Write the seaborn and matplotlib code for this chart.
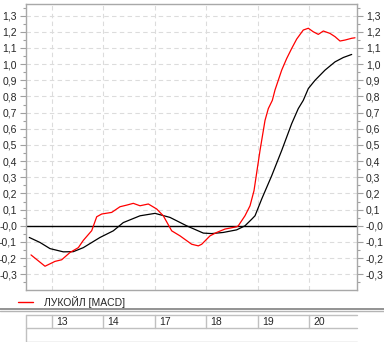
import matplotlib
matplotlib.use("Agg")
import matplotlib.pyplot as plt
import matplotlib.ticker as mticker
from matplotlib.lines import Line2D
import matplotlib.transforms as mtransforms
import seaborn as sns
import pandas as pd

# ---- data (bar index, MACD value) ----
red_x = [0.97, 3.69, 5.63, 6.93, 8.54, 10.16, 11.13, 12.76, 13.73, 14.7, 16.64, 18.25,
         19.55, 20.83, 22.14, 23.75, 25.38, 26.66, 28.29, 29.9, 32.17, 33.46, 34.12,
         35.73, 37.03, 38.64, 40.91, 41.22, 42.52, 43.5, 44.27, 45.44, 46.41, 47.05,
         47.83, 48.35, 49.65, 50.62, 51.59, 52.56, 53.84, 54.82, 55.79, 56.76, 57.73,
         59.03, 60.0, 60.97, 61.94, 63.24, 63.88]
red_y = [-0.18, -0.25, -0.22, -0.21, -0.165, -0.135, -0.09, -0.03, 0.056, 0.073, 0.083,
         0.118, 0.128, 0.139, 0.124, 0.135, 0.104, 0.062, -0.031, -0.062, -0.114, -0.124,
         -0.114, -0.062, -0.041, -0.02, -0.006, 0.0, 0.062, 0.124, 0.217, 0.466, 0.652,
         0.725, 0.776, 0.84, 0.963, 1.035, 1.097, 1.155, 1.211, 1.222, 1.20, 1.184, 1.205,
         1.19, 1.17, 1.143, 1.149, 1.16, 1.163]
black_x = [0.64, 2.72, 4.66, 7.24, 9.18, 11.13, 14.37, 16.95, 18.89, 22.14, 25.05, 27.96,
           31.2, 34.43, 36.06, 38.31, 40.91, 42.52, 43.83, 44.47, 45.77, 47.71, 49.65,
           51.59, 52.87, 53.84, 54.82, 56.12, 58.06, 60.0, 61.61, 63.24]
black_y = [-0.072, -0.103, -0.141, -0.161, -0.16, -0.135, -0.072, -0.031, 0.02, 0.062,
           0.077, 0.052, 0.0, -0.045, -0.048, -0.041, -0.025, 0.0, 0.041, 0.062, 0.166,
           0.31, 0.466, 0.632, 0.725, 0.776, 0.849, 0.9, 0.963, 1.014, 1.041, 1.06]
day_bars = [5, 15, 25, 35, 45, 55]
day_labels = ["13", "14", "17", "18", "19", "20"]
series_name = "ЛУКОЙЛ [MACD]"

sns.set_style("white")
plt.rcParams['font.family'] = ['Liberation Sans', 'DejaVu Sans']

W, H = 384, 342
fig = plt.figure(figsize=(W / 100, H / 100), dpi=100)

def fx(px):
    return px / W

def fy(py):
    return 1 - py / H

L, R, T, B = 26, 357, 4, 290
ax = fig.add_axes([fx(L), fy(B), (R - L) / W, (B - T) / H])

red_df = pd.DataFrame({"bar": red_x, "macd": red_y})
black_df = pd.DataFrame({"bar": black_x, "macd": black_y})
ax.axhline(0, color="black", lw=1.0, zorder=2)
sns.lineplot(data=black_df, x="bar", y="macd", color="black", lw=0.9, ax=ax,
             legend=False, zorder=3, sort=False)
sns.lineplot(data=red_df, x="bar", y="macd", color="#ff0000", lw=0.9, ax=ax,
             legend=False, zorder=4, sort=False)

ax.set_xlim(0, (R - L) / 5.15)
ax.set_ylim(-0.397, 1.372)
ax.set_xlabel("")
ax.set_ylabel("")

ax.yaxis.set_major_locator(mticker.MultipleLocator(0.1))
ax.yaxis.set_minor_locator(mticker.MultipleLocator(0.05))

def fmt(v, pos):
    s = f"{v:.1f}".replace(".", ",")
    if abs(v) < 1e-9:
        s = "-0,0"
    return s

ax.yaxis.set_major_formatter(mticker.FuncFormatter(fmt))
ax.set_xticks(day_bars)
ax.tick_params(axis="x", which="both", length=0, labelbottom=False)
ax.tick_params(axis="y", which="major", length=4.5, width=0.8, color="#a0a0a0",
               labelsize=7.5, pad=2, left=True, right=True, labelleft=True,
               labelright=True, direction="out")
ax.tick_params(axis="y", which="minor", length=2.5, width=0.8, color="#a0a0a0",
               left=True, right=True, direction="out")
ax.grid(True, which="major", axis="both", color="#dcdcdc", ls=(0, (4, 3)), lw=0.8)
for sp in ax.spines.values():
    sp.set_color("#a8a8a8")
    sp.set_linewidth(1.0)

# legend
h = Line2D([0], [0], color="#ff0000", lw=1.0)
fig.legend(handles=[h], labels=[series_name], loc="center left",
           bbox_to_anchor=(fx(18), fy(302)), frameon=False, fontsize=7.5,
           handlelength=1.45, handletextpad=1.0, borderpad=0, borderaxespad=0)

# separators and date table
def hline(py, x0, x1, color, lw):
    fig.add_artist(Line2D([fx(x0), fx(x1)], [fy(py), fy(py)], color=color, lw=lw,
                          transform=fig.transFigure))

hline(308.8, 0, W, "#808080", 1.2)
hline(311.3, 0, W, "#b4b4b4", 1.0)
hline(315, L, R, "#c0c0c0", 1.0)
hline(328.3, L, R, "#c0c0c0", 1.0)
hline(341.5, L, R, "#c0c0c0", 1.0)
fig.add_artist(Line2D([fx(L), fx(L)], [fy(315), fy(342)], color="#c0c0c0", lw=1.0,
                      transform=fig.transFigure))
blend = mtransforms.blended_transform_factory(ax.transData, fig.transFigure)
for b, lab in zip(day_bars, day_labels):
    fig.add_artist(Line2D([b, b], [fy(315), fy(328.3)], color="#c0c0c0", lw=1.0,
                          transform=blend))
    t = mtransforms.offset_copy(blend, fig=fig, x=4, y=0, units="dots")
    fig.text(b, fy(321.8), lab, transform=t, ha="left", va="center", fontsize=7.5)

fig.savefig("out.png", dpi=100)
